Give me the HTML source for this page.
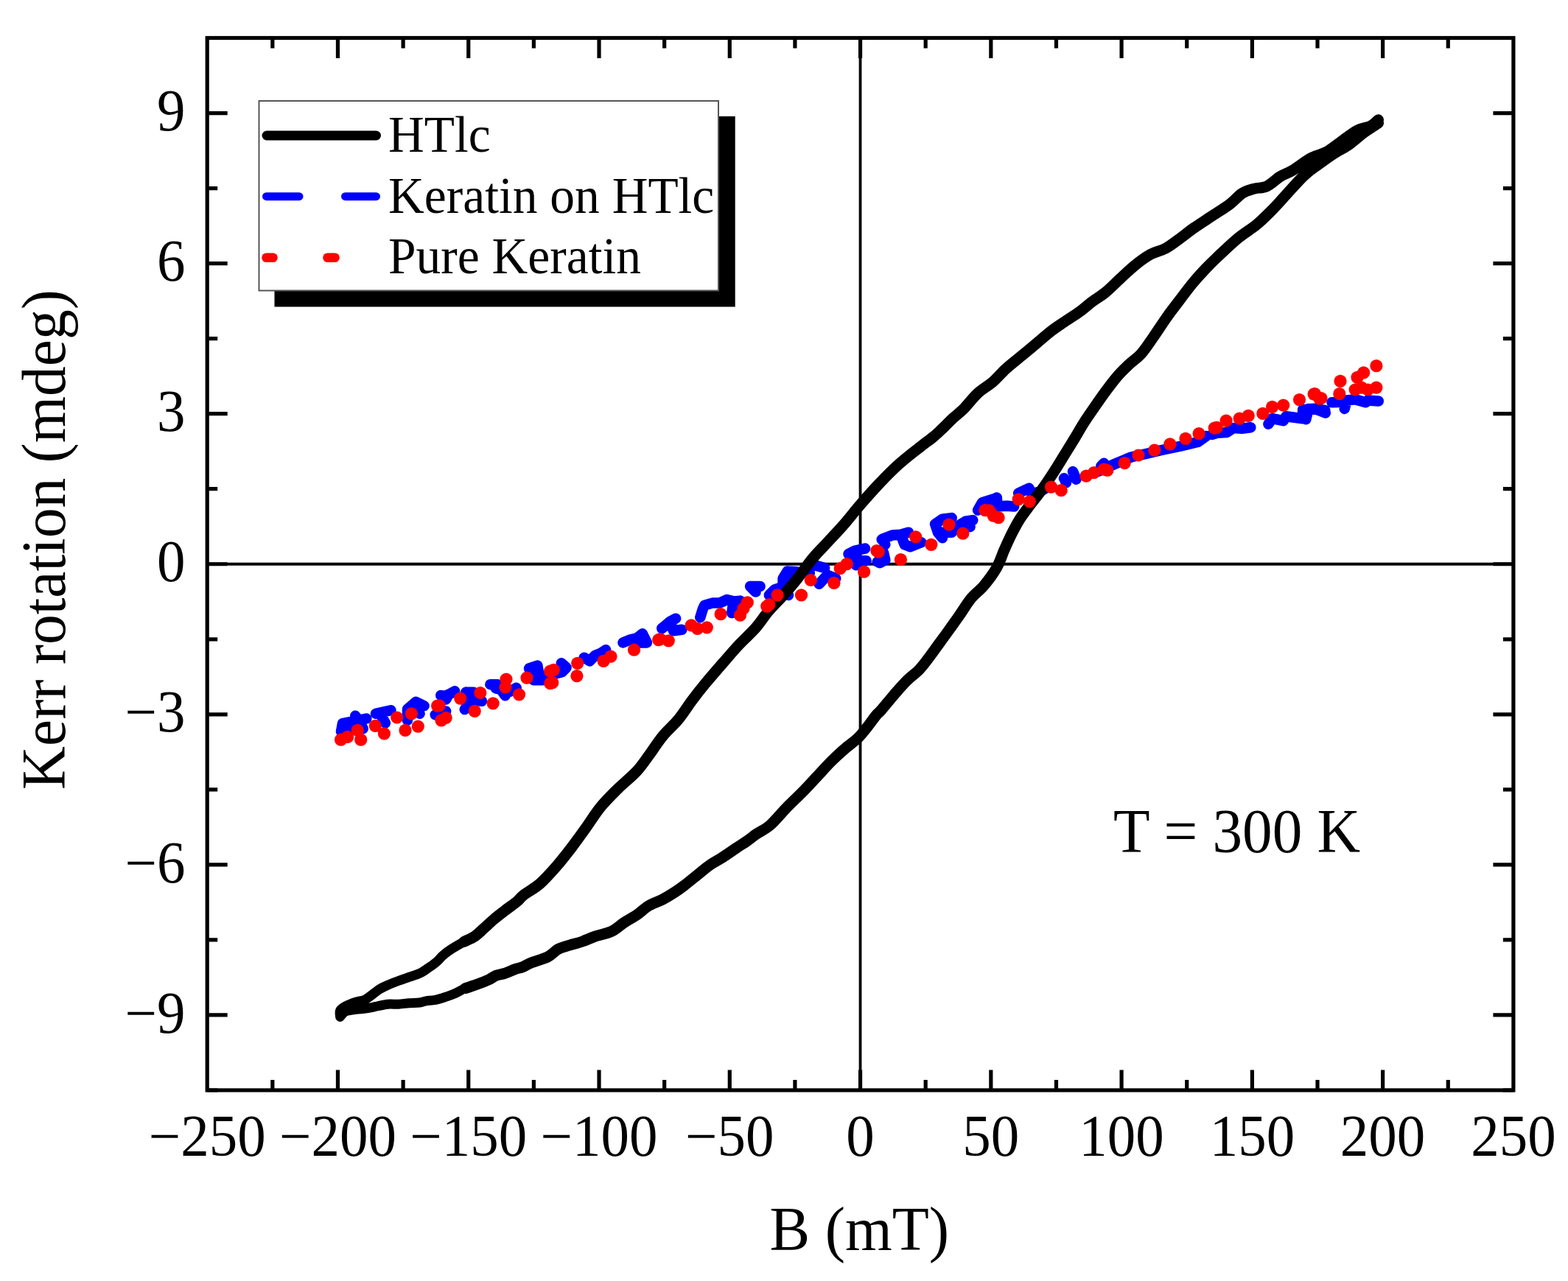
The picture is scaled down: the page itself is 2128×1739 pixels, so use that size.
<!DOCTYPE html>
<html><head><meta charset="utf-8"><title>Kerr rotation vs B</title>
<style>html,body{margin:0;padding:0;background:#fff;}svg{display:block;}</style></head>
<body><svg width="2128" height="1739" viewBox="0 0 2128 1739" xmlns="http://www.w3.org/2000/svg" font-family="'Liberation Serif', 'Times New Roman', serif" fill="#000">
<rect width="2128" height="1739" fill="#fff"/>
<line x1="1167.55" y1="51.5" x2="1167.55" y2="1480.0" stroke="#000" stroke-width="3.8"/>
<line x1="281.2" y1="765.75" x2="2053.9" y2="765.75" stroke="#000" stroke-width="3.8"/>
<path d="M463.0 993.0L465.0 982.0L475.0 980.0L475.0 990.0M482.2 971.8L486.7 977.8L492.7 989.1M486.7 977.8L497.3 975.5M510.0 968.8L530.4 964.2M515.3 968.0L522.9 981.6M553.0 962.7L564.3 952.9L575.6 958.2M553.0 962.7L553.0 977.8M564.3 962.0L569.6 968.8M590.7 970.3h0.1M598.2 943.9h0.1M593.8 969.9L605.1 965.4M599.8 945.8L608.8 942.8L617.1 938.3M605.1 949.6L608.8 942.8M632.2 939.8L642.7 939.8M639.0 950.3L632.2 939.8M639.0 950.3L654.0 951.8M639.0 950.3L630.7 963.1M665.3 929.2L675.1 929.2L685.7 944.3M672.9 934.5L691.7 939.0L700.7 933.8M718.1 907.4L729.4 903.6L731.6 917.2L744.4 917.2M724.1 923.2L736.9 923.2M718.1 907.4L724.1 923.2M740.0 919.1L751.3 915.3L762.6 912.3L768.6 906.3L761.8 900.3M792.7 892.7L800.3 897.3L807.8 889.7L815.3 886.7L822.1 882.2M845.5 872.4L854.5 868.6L864.3 866.4L871.8 860.3L877.9 872.4M864.3 866.4L868.1 872.4L877.9 872.4M898.2 852.8h0.1M898.3 853.3L908.8 844.2L917.1 839.7M908.8 844.2L914.1 856.3L925.4 854.8M950.3 838.2L954.0 826.2L956.3 821.6L966.8 818.6L976.6 818.6L986.4 814.1L995.5 816.4L993.2 832.2M995.5 816.4L1004.5 815.6M1018.1 796.0L1031.6 796.0M1025.6 803.6L1018.1 796.0M1046.7 805.1h0.1M1043.8 807.9L1051.3 800.3L1062.6 796.6L1070.1 807.9M1062.6 796.6L1062.6 785.3L1068.6 775.5L1081.4 776.2M1076.2 785.3L1068.6 775.5M1094.2 770.2L1105.5 767.2L1119.1 771.0M1094.2 770.2L1098.8 777.7M1111.6 792.8L1122.9 780.7L1134.2 785.3M1151.5 752.1L1160.5 747.6L1174.1 744.6M1151.5 752.1L1164.3 761.2L1175.6 761.2M1164.3 761.2L1162.0 767.2M1196.7 732.5h0.1M1190.7 762.7L1198.2 758.9M1197.5 731.8L1201.3 739.3M1197.5 731.8L1211.1 726.5L1222.4 725.7L1232.9 722.7M1227.7 739.3L1235.2 742.3L1250.3 736.3M1222.4 725.7L1227.7 739.3M1193.8 764.2L1201.3 760.4M1201.3 760.4L1199.0 750.0M1269.1 711.4L1278.9 704.7L1291.7 703.1M1269.1 711.4L1272.9 722.7L1278.9 730.3M1272.9 722.7L1291.7 722.7L1303.0 712.2L1310.5 707.7L1320.3 706.2M1310.5 707.7L1316.6 715.2M1327.1 692.6L1333.1 682.1L1348.2 677.5M1340.0 683.1L1352.8 675.5L1353.6 687.6L1366.4 686.8L1376.2 687.6M1382.2 669.5L1396.5 662.7L1400.3 670.3L1411.6 667.3L1419.1 662.7M1444.0 649.2L1447.0 655.2M1456.0 640.1L1460.5 650.7M1494.4 632.6L1498.2 628.8M1490.0 640.0L1512.6 630.0L1535.2 620.5L1555.5 616.0L1576.6 611.0L1603.0 605.5L1625.6 600.0L1636.9 592.0M1645.0 590.0L1651.3 587.8L1664.9 587.0L1673.9 581.0L1685.2 581.8L1697.3 580.3M1721.4 575.7L1726.6 568.2L1741.7 571.2L1745.5 565.2L1756.8 566.7L1768.1 568.2M1768.1 556.2L1783.1 554.7L1798.2 556.9M1768.1 568.2L1768.1 556.2M1772.3 569.3L1775.8 554.9L1787.3 556.0L1798.8 560.6M1807.4 546.2L1816.0 546.0M1824.7 554.9L1827.6 543.4L1839.1 542.2L1853.5 546.2L1856.4 543.4L1870.8 544.5" stroke="#0000ff" stroke-width="14.5" stroke-linecap="round" stroke-linejoin="round" fill="none"/>
<path d="M1870.5 162.8C1868.8 164.2 1864.9 168.7 1860.1 171.1C1855.2 173.5 1848.0 173.9 1841.4 177.3C1834.8 180.8 1827.6 187.0 1820.7 191.8C1813.8 196.7 1806.9 202.6 1800.0 206.4C1793.1 210.2 1786.8 210.6 1779.2 214.7C1771.6 218.8 1761.2 227.1 1754.3 231.2C1747.4 235.3 1743.6 235.9 1737.7 239.5C1731.8 243.1 1725.0 250.2 1719.1 253.0C1713.2 255.8 1708.0 254.5 1702.5 256.1C1697.0 257.7 1691.4 258.9 1685.9 262.4C1680.4 265.9 1676.2 271.7 1669.3 276.9C1662.4 282.1 1652.7 288.0 1644.4 293.5C1636.1 299.0 1626.4 305.2 1619.5 310.0C1612.6 314.8 1609.2 318.0 1603.0 322.5C1596.8 327.0 1589.1 333.2 1582.2 337.0C1575.3 340.8 1568.4 341.5 1561.5 345.3C1554.6 349.1 1547.6 354.3 1540.7 359.8C1533.8 365.3 1526.8 372.2 1520.0 378.5C1513.2 384.8 1505.9 392.2 1499.6 397.4C1493.3 402.6 1488.1 405.2 1482.3 409.5C1476.5 413.8 1471.3 418.7 1465.0 423.3C1458.7 427.9 1450.6 432.8 1444.3 437.1C1438.0 441.4 1433.3 444.3 1427.0 449.2C1420.7 454.1 1413.2 460.7 1406.3 466.5C1399.4 472.3 1392.4 478.0 1385.5 483.8C1378.6 489.6 1371.1 495.3 1364.8 501.1C1358.5 506.9 1353.8 512.9 1347.5 518.4C1341.2 523.9 1333.4 527.8 1326.8 533.9C1320.2 540.0 1313.4 549.3 1307.8 555.0C1302.2 560.7 1297.5 563.8 1293.0 568.0C1288.5 572.2 1285.1 576.0 1280.9 580.0C1276.7 584.0 1273.0 587.8 1268.0 592.0C1263.0 596.2 1256.6 600.7 1250.6 605.4C1244.6 610.1 1238.2 614.9 1232.0 620.0C1225.8 625.1 1220.7 629.2 1213.7 635.9C1206.7 642.6 1197.7 651.8 1190.0 660.0C1182.3 668.2 1175.3 676.2 1167.6 685.2C1159.8 694.2 1151.0 705.5 1143.5 714.0C1136.0 722.5 1129.7 729.0 1122.8 736.5C1115.9 744.0 1109.0 750.6 1102.1 759.0C1095.2 767.4 1087.7 778.5 1081.3 786.6C1074.9 794.7 1070.0 800.2 1063.6 807.4C1057.2 814.6 1049.2 822.3 1042.9 829.8C1036.6 837.3 1032.4 844.5 1025.6 852.3C1018.7 860.1 1009.2 868.5 1001.8 876.5C994.4 884.5 988.5 891.5 981.1 900.0C973.7 908.5 964.6 919.0 957.5 927.6C950.4 936.2 944.5 943.7 938.5 951.8C932.5 959.9 927.8 967.9 921.2 976.0C914.6 984.1 905.3 992.1 898.7 1000.2C892.1 1008.3 887.1 1016.6 881.4 1024.4C875.6 1032.2 871.4 1039.1 864.2 1046.9C857.0 1054.7 846.4 1063.0 838.2 1071.1C830.1 1079.2 822.6 1086.4 815.3 1095.3C808.0 1104.2 801.2 1115.4 794.6 1124.6C788.0 1133.8 782.2 1141.9 775.6 1150.6C769.0 1159.2 762.0 1168.3 754.8 1176.5C747.6 1184.7 739.7 1193.6 732.4 1200.0C725.1 1206.4 715.8 1210.9 710.8 1214.8C705.8 1218.7 706.4 1219.9 702.1 1223.5C697.8 1227.1 690.2 1232.3 684.9 1236.4C679.6 1240.5 675.2 1243.8 670.4 1247.9C665.6 1252.0 660.3 1257.1 656.0 1260.9C651.7 1264.8 648.8 1268.1 644.5 1271.0C640.2 1273.9 632.5 1277.0 630.1 1278.2M631.6 1341.6C634.5 1340.6 643.5 1337.7 648.8 1335.8C654.1 1333.9 659.1 1331.9 663.2 1330.0C667.3 1328.1 669.7 1325.7 673.3 1324.3C676.9 1322.9 680.6 1322.9 684.9 1321.4C689.2 1320.0 695.2 1317.0 699.3 1315.6C703.4 1314.2 705.7 1314.2 709.3 1312.8C712.9 1311.4 715.1 1309.3 720.9 1307.0C726.6 1304.7 737.7 1301.8 743.8 1298.7C749.9 1295.6 752.7 1291.0 757.6 1288.4C762.5 1285.8 767.7 1284.9 773.2 1283.2C778.7 1281.5 784.7 1280.0 790.5 1278.0C796.3 1276.0 801.2 1273.4 807.8 1271.1C814.4 1268.8 823.6 1267.4 830.2 1264.2C836.8 1261.0 841.7 1255.8 847.5 1252.1C853.3 1248.3 859.3 1245.5 864.8 1241.7C870.3 1238.0 874.5 1233.0 880.3 1229.6C886.0 1226.1 893.2 1224.2 899.3 1221.0C905.3 1217.8 911.7 1213.8 916.6 1210.6C921.5 1207.4 923.8 1205.8 928.7 1202.0C933.6 1198.2 940.2 1192.7 946.0 1188.1C951.8 1183.5 957.5 1178.3 963.3 1174.3C969.1 1170.3 974.5 1167.8 980.6 1163.9C986.7 1160.0 994.1 1154.7 999.6 1151.0C1005.1 1147.3 1009.0 1145.0 1013.4 1142.0C1017.8 1139.0 1020.6 1136.4 1025.9 1132.7C1031.2 1129.0 1038.6 1126.0 1045.4 1120.0C1052.2 1114.0 1059.7 1104.5 1067.0 1097.0C1074.3 1089.5 1082.5 1082.0 1089.5 1074.8C1096.5 1067.6 1102.5 1060.9 1109.0 1054.0C1115.5 1047.1 1122.2 1039.5 1128.4 1033.3C1134.6 1027.1 1140.0 1022.2 1146.0 1017.0C1152.0 1011.8 1158.9 1007.2 1164.1 1002.2C1169.3 997.2 1172.8 992.2 1177.0 987.0C1181.2 981.8 1185.8 974.9 1189.0 971.1C1192.2 967.3 1191.9 968.6 1195.9 964.0C1199.9 959.4 1207.5 949.9 1213.2 943.3C1219.0 936.7 1224.7 930.0 1230.4 924.3C1236.2 918.5 1242.5 914.3 1247.7 908.8C1252.9 903.3 1257.0 897.5 1261.6 891.5C1266.2 885.5 1270.8 878.8 1275.4 872.5C1280.0 866.2 1284.7 859.8 1289.2 853.5C1293.7 847.2 1297.7 841.7 1302.5 834.8C1307.3 827.9 1312.5 818.9 1318.0 812.3C1323.5 805.7 1329.5 801.9 1335.3 795.0C1341.1 788.1 1348.0 778.9 1352.6 770.8C1357.2 762.7 1359.5 754.4 1362.9 746.6C1366.4 738.8 1369.8 731.1 1373.3 724.2C1376.8 717.3 1379.7 711.6 1383.7 705.2C1387.7 698.9 1392.3 693.0 1397.5 686.1C1402.7 679.2 1409.0 671.8 1414.8 663.7C1420.6 655.7 1426.9 645.9 1432.1 637.8C1437.3 629.7 1441.5 622.5 1445.9 615.3C1450.3 608.1 1454.4 601.7 1458.6 594.8C1462.8 587.9 1466.6 580.9 1471.0 574.0C1475.4 567.1 1480.2 560.3 1485.0 553.3C1489.8 546.3 1494.9 538.9 1500.0 532.0C1505.1 525.1 1510.3 518.0 1515.6 511.8C1520.9 505.6 1526.4 500.3 1532.0 495.0C1537.6 489.7 1543.5 486.2 1549.0 480.0C1554.5 473.8 1559.2 466.4 1565.0 458.0C1570.8 449.6 1577.9 438.5 1584.1 429.8C1590.3 421.1 1596.2 413.7 1602.0 406.0C1607.8 398.3 1613.5 390.5 1619.2 383.7C1624.9 376.9 1630.5 370.8 1636.0 365.0C1641.5 359.2 1644.7 356.0 1652.0 349.1C1659.3 342.2 1670.9 331.0 1679.7 323.7C1688.5 316.4 1697.5 311.4 1705.0 305.3C1712.5 299.2 1718.4 293.0 1724.6 286.9C1730.8 280.8 1734.5 276.4 1741.9 268.4C1749.3 260.4 1761.1 246.6 1769.1 239.0C1777.0 231.4 1782.7 228.1 1789.6 223.0C1796.5 217.9 1803.4 212.9 1810.3 208.4C1817.2 203.9 1824.2 200.8 1831.1 196.0C1838.0 191.2 1845.2 184.2 1851.8 179.4C1858.4 174.6 1867.4 169.1 1870.5 167.0" fill="none" stroke="#000" stroke-width="15" stroke-linejoin="round" stroke-linecap="round"/>
<path d="M656.0 1260.9C654.1 1262.6 648.8 1268.1 644.5 1271.0C640.2 1273.9 635.4 1275.3 630.1 1278.2C624.8 1281.1 617.6 1285.2 612.8 1288.3C608.0 1291.4 604.6 1294.0 601.3 1296.9C597.9 1299.8 596.1 1302.7 592.7 1305.6C589.3 1308.5 585.0 1311.6 581.1 1314.2C577.2 1316.8 573.9 1319.4 569.6 1321.4C565.3 1323.4 560.0 1324.7 555.2 1326.4C550.4 1328.1 545.6 1329.7 540.8 1331.5C536.0 1333.3 530.7 1335.3 526.4 1337.2C522.1 1339.1 518.7 1340.6 514.9 1343.0C511.1 1345.4 506.8 1349.2 503.4 1351.6C500.0 1354.0 498.1 1356.0 494.7 1357.4C491.3 1358.9 487.5 1358.9 483.2 1360.3C478.9 1361.7 472.4 1364.1 468.8 1366.0C465.2 1367.9 462.8 1369.4 461.6 1371.8C460.4 1374.2 461.6 1379.0 461.6 1380.5M461.6 1380.5C462.8 1379.3 465.2 1374.9 468.8 1373.2C472.4 1371.5 478.4 1371.1 483.2 1370.4C488.0 1369.7 492.8 1369.6 497.6 1368.9C502.4 1368.2 507.2 1367.0 512.0 1366.0C516.8 1365.0 521.6 1363.7 526.4 1363.2C531.2 1362.7 536.0 1363.5 540.8 1363.2C545.6 1363.0 550.4 1362.1 555.2 1361.7C560.0 1361.3 565.8 1361.5 569.6 1361.0C573.5 1360.5 574.7 1359.4 578.3 1358.8C581.9 1358.2 586.7 1358.4 591.2 1357.4C595.8 1356.5 601.3 1354.5 605.6 1353.1C609.9 1351.7 612.9 1350.7 617.2 1348.8C621.5 1346.9 626.3 1343.8 631.6 1341.6C636.9 1339.4 645.9 1336.8 648.8 1335.8" fill="none" stroke="#000" stroke-width="13" stroke-linejoin="round" stroke-linecap="round"/>
<g fill="#ff0000"><circle cx="462.6" cy="1004.2" r="8.6"/><circle cx="471.6" cy="1000.4" r="8.6"/><circle cx="485.2" cy="991.4" r="8.6"/><circle cx="489.7" cy="1004.2" r="8.6"/><circle cx="509.3" cy="985.3" r="8.6"/><circle cx="521.4" cy="995.9" r="8.6"/><circle cx="538.7" cy="974.0" r="8.6"/><circle cx="550.0" cy="991.4" r="8.6"/><circle cx="558.3" cy="968.8" r="8.6"/><circle cx="567.3" cy="986.1" r="8.6"/><circle cx="593.7" cy="958.2" r="8.6"/><circle cx="598.9" cy="977.8" r="8.6"/><circle cx="596.0" cy="957.9" r="8.6"/><circle cx="605.1" cy="974.4" r="8.6"/><circle cx="624.7" cy="948.1" r="8.6"/><circle cx="651.8" cy="940.5" r="8.6"/><circle cx="644.2" cy="965.4" r="8.6"/><circle cx="669.1" cy="954.8" r="8.6"/><circle cx="687.0" cy="922.0" r="8.6"/><circle cx="686.0" cy="933.0" r="8.6"/><circle cx="704.5" cy="942.8" r="8.6"/><circle cx="715.0" cy="920.2" r="8.6"/><circle cx="746.7" cy="911.2" r="8.6"/><circle cx="746.7" cy="927.7" r="8.6"/><circle cx="751.3" cy="909.3" r="8.6"/><circle cx="749.8" cy="926.6" r="8.6"/><circle cx="783.7" cy="900.3" r="8.6"/><circle cx="782.9" cy="917.6" r="8.6"/><circle cx="819.1" cy="897.3" r="8.6"/><circle cx="828.9" cy="891.2" r="8.6"/><circle cx="860.5" cy="882.2" r="8.6"/><circle cx="893.7" cy="868.6" r="8.6"/><circle cx="896.0" cy="867.6" r="8.6"/><circle cx="907.3" cy="869.8" r="8.6"/><circle cx="938.2" cy="848.8" r="8.6"/><circle cx="946.5" cy="853.3" r="8.6"/><circle cx="959.3" cy="851.8" r="8.6"/><circle cx="978.1" cy="833.7" r="8.6"/><circle cx="1004.5" cy="835.2" r="8.6"/><circle cx="1009.0" cy="826.0" r="8.6"/><circle cx="1014.3" cy="817.9" r="8.6"/><circle cx="1040.7" cy="823.1" r="8.6"/><circle cx="1043.8" cy="820.7" r="8.6"/><circle cx="1055.1" cy="807.9" r="8.6"/><circle cx="1087.5" cy="807.9" r="8.6"/><circle cx="1100.3" cy="787.5" r="8.6"/><circle cx="1131.9" cy="791.3" r="8.6"/><circle cx="1140.2" cy="771.7" r="8.6"/><circle cx="1149.2" cy="765.7" r="8.6"/><circle cx="1172.6" cy="776.2" r="8.6"/><circle cx="1189.9" cy="747.6" r="8.6"/><circle cx="1192.3" cy="749.1" r="8.6"/><circle cx="1222.4" cy="759.6" r="8.6"/><circle cx="1242.7" cy="728.8" r="8.6"/><circle cx="1263.8" cy="739.3" r="8.6"/><circle cx="1287.9" cy="712.2" r="8.6"/><circle cx="1306.8" cy="724.2" r="8.6"/><circle cx="1336.9" cy="692.6" r="8.6"/><circle cx="1348.2" cy="700.1" r="8.6"/><circle cx="1342.3" cy="692.9" r="8.6"/><circle cx="1355.1" cy="702.7" r="8.6"/><circle cx="1382.2" cy="677.8" r="8.6"/><circle cx="1397.3" cy="680.8" r="8.6"/><circle cx="1426.6" cy="661.2" r="8.6"/><circle cx="1440.2" cy="665.7" r="8.6"/><circle cx="1474.1" cy="646.2" r="8.6"/><circle cx="1484.6" cy="641.6" r="8.6"/><circle cx="1498.2" cy="637.1" r="8.6"/><circle cx="1502.8" cy="638.3" r="8.6"/><circle cx="1526.2" cy="628.6" r="8.6"/><circle cx="1545.0" cy="618.0" r="8.6"/><circle cx="1566.8" cy="611.2" r="8.6"/><circle cx="1587.9" cy="602.9" r="8.6"/><circle cx="1609.0" cy="595.4" r="8.6"/><circle cx="1627.1" cy="588.6" r="8.6"/><circle cx="1648.2" cy="581.1" r="8.6"/><circle cx="1651.3" cy="580.3" r="8.6"/><circle cx="1664.1" cy="571.2" r="8.6"/><circle cx="1682.2" cy="568.2" r="8.6"/><circle cx="1694.2" cy="564.4" r="8.6"/><circle cx="1713.8" cy="561.4" r="8.6"/><circle cx="1726.6" cy="552.4" r="8.6"/><circle cx="1741.7" cy="550.1" r="8.6"/><circle cx="1763.5" cy="542.6" r="8.6"/><circle cx="1783.1" cy="535.1" r="8.6"/><circle cx="1790.7" cy="541.1" r="8.6"/><circle cx="1784.4" cy="534.7" r="8.6"/><circle cx="1793.0" cy="540.5" r="8.6"/><circle cx="1819.0" cy="517.4" r="8.6"/><circle cx="1817.8" cy="534.7" r="8.6"/><circle cx="1842.0" cy="512.3" r="8.6"/><circle cx="1850.6" cy="505.9" r="8.6"/><circle cx="1847.8" cy="526.1" r="8.6"/><circle cx="1839.1" cy="529.0" r="8.6"/><circle cx="1867.9" cy="526.1" r="8.6"/><circle cx="1856.4" cy="529.0" r="8.6"/><circle cx="1867.9" cy="496.7" r="8.6"/></g>
<rect x="281.2" y="51.5" width="1772.70" height="1428.50" fill="none" stroke="#000" stroke-width="5.2"/>
<path d="M369.83 1480.0v-14M369.83 51.5v14M458.47 1480.0v-27.5M458.47 51.5v27.5M547.11 1480.0v-14M547.11 51.5v14M635.74 1480.0v-27.5M635.74 51.5v27.5M724.38 1480.0v-14M724.38 51.5v14M813.01 1480.0v-27.5M813.01 51.5v27.5M901.64 1480.0v-14M901.64 51.5v14M990.28 1480.0v-27.5M990.28 51.5v27.5M1078.91 1480.0v-14M1078.91 51.5v14M1167.55 1480.0v-27.5M1167.55 51.5v27.5M1256.18 1480.0v-14M1256.18 51.5v14M1344.82 1480.0v-27.5M1344.82 51.5v27.5M1433.46 1480.0v-14M1433.46 51.5v14M1522.09 1480.0v-27.5M1522.09 51.5v27.5M1610.73 1480.0v-14M1610.73 51.5v14M1699.36 1480.0v-27.5M1699.36 51.5v27.5M1788.00 1480.0v-14M1788.00 51.5v14M1876.63 1480.0v-27.5M1876.63 51.5v27.5M1965.27 1480.0v-14M1965.27 51.5v14M281.2 1480.00h14M2053.9 1480.00h-14M281.2 1377.96h27.5M2053.9 1377.96h-27.5M281.2 1275.93h14M2053.9 1275.93h-14M281.2 1173.89h27.5M2053.9 1173.89h-27.5M281.2 1071.86h14M2053.9 1071.86h-14M281.2 969.82h27.5M2053.9 969.82h-27.5M281.2 867.79h14M2053.9 867.79h-14M281.2 765.75h27.5M2053.9 765.75h-27.5M281.2 663.71h14M2053.9 663.71h-14M281.2 561.68h27.5M2053.9 561.68h-27.5M281.2 459.64h14M2053.9 459.64h-14M281.2 357.61h27.5M2053.9 357.61h-27.5M281.2 255.57h14M2053.9 255.57h-14M281.2 153.54h27.5M2053.9 153.54h-27.5M281.2 51.50h14M2053.9 51.50h-14" stroke="#000" stroke-width="5.2" fill="none"/>
<g font-size="77"><text transform="translate(281.2 1568.6) scale(1 1.035)" text-anchor="middle">−250</text><text transform="translate(458.5 1568.6) scale(1 1.035)" text-anchor="middle">−200</text><text transform="translate(635.7 1568.6) scale(1 1.035)" text-anchor="middle">−150</text><text transform="translate(813.0 1568.6) scale(1 1.035)" text-anchor="middle">−100</text><text transform="translate(990.3 1568.6) scale(1 1.035)" text-anchor="middle">−50</text><text transform="translate(1167.5 1568.6) scale(1 1.035)" text-anchor="middle">0</text><text transform="translate(1344.8 1568.6) scale(1 1.035)" text-anchor="middle">50</text><text transform="translate(1522.1 1568.6) scale(1 1.035)" text-anchor="middle">100</text><text transform="translate(1699.4 1568.6) scale(1 1.035)" text-anchor="middle">150</text><text transform="translate(1876.6 1568.6) scale(1 1.035)" text-anchor="middle">200</text><text transform="translate(2053.9 1568.6) scale(1 1.035)" text-anchor="middle">250</text><text transform="translate(251.5 1401.6) scale(1 1.035)" text-anchor="end">−9</text><text transform="translate(251.5 1197.5) scale(1 1.035)" text-anchor="end">−6</text><text transform="translate(251.5 993.4) scale(1 1.035)" text-anchor="end">−3</text><text transform="translate(251.5 789.4) scale(1 1.035)" text-anchor="end">0</text><text transform="translate(251.5 585.3) scale(1 1.035)" text-anchor="end">3</text><text transform="translate(251.5 381.2) scale(1 1.035)" text-anchor="end">6</text><text transform="translate(251.5 177.1) scale(1 1.035)" text-anchor="end">9</text></g>
<text transform="translate(1166.3 1697.0) scale(1 1.035)" text-anchor="middle" font-size="82">B (mT)</text>
<text transform="translate(87.5 732.5) rotate(-90) scale(1 1.035)" text-anchor="middle" font-size="81.5">Kerr rotation (mdeg)</text>
<text transform="translate(1511.0 1156.5) scale(1 1.035)" font-size="81.2">T = 300 K</text>
<rect x="372.5" y="157.9" width="625.2" height="258.6" fill="#000"/>
<rect x="351.5" y="137" width="623.5" height="257.5" fill="#fff" stroke="#555" stroke-width="2"/>
<line x1="362" y1="184" x2="510.5" y2="184" stroke="#000" stroke-width="13" stroke-linecap="round"/>
<line x1="361.5" y1="266.7" x2="406" y2="266.7" stroke="#0000ff" stroke-width="11" stroke-linecap="round"/>
<line x1="468.5" y1="266.7" x2="510.5" y2="266.7" stroke="#0000ff" stroke-width="11" stroke-linecap="round"/>
<line x1="361.5" y1="349.7" x2="370.5" y2="349.7" stroke="#ff0000" stroke-width="12.6" stroke-linecap="round"/>
<line x1="444.5" y1="349.7" x2="454.5" y2="349.7" stroke="#ff0000" stroke-width="12.6" stroke-linecap="round"/>
<g font-size="67.5"><text transform="translate(527.0 205.8) scale(1 1.035)">HTlc</text><text transform="translate(527.0 288.8) scale(1 1.035)">Keratin on HTlc</text><text transform="translate(527.0 370.8) scale(1 1.035)">Pure Keratin</text></g>
</svg></body></html>
